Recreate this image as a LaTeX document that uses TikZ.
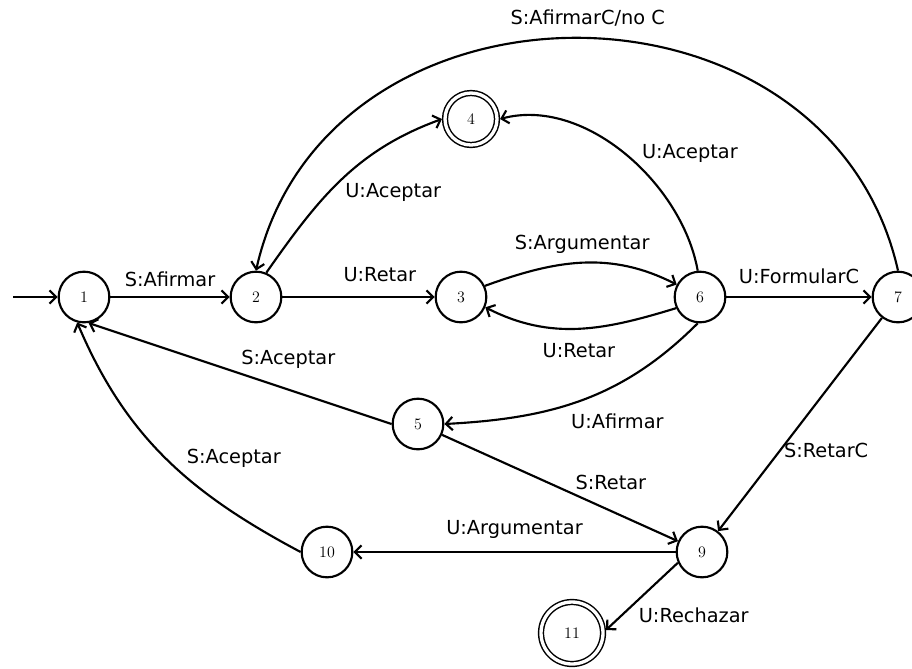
\documentclass[tikz,border=0pt]{standalone}
\usepackage{fontspec}
\usepackage{tikz}
\usetikzlibrary{arrows.meta}
\newfontfamily\lblfont{DejaVu Sans}

\tikzset{
	st/.style={circle, draw, line width=1.6pt, minimum size=38pt, inner sep=0pt, font=\fontsize{12}{12}\selectfont},
	fin/.style={st, double, double distance=2.5pt, line width=1.1pt, outer sep=2.3pt},
	trans/.style={->, line width=1.6pt},
	lbl/.style={font=\lblfont\fontsize{14.5}{16}\selectfont, inner sep=2pt}
}

\begin{document}
\begin{tikzpicture}[x=0.75pt, y=0.75pt, >={Straight Barb[length=5pt,width=10pt]}]
		
		\useasboundingbox (0,0) rectangle (912,-668);
		
		\foreach \n/\x/\y in {1/84/-297, 2/256/-297, 3/461/-297, 5/418/-424, 6/700/-297, 7/898/-297, 9/702/-552, 10/327/-552}
		{
			\node[st] (n\n) at (\x,\y) {\n};
		}
		\node[fin, minimum size=39pt] (n4) at (471,-119) {4};
		\node[fin, minimum size=46.5pt] (n11) at (572,-633) {11};
		\coordinate (s0) at (13,-297);
		
		\draw[trans] (s0) -- (n1);
		\draw[trans] (n1) -- (n2) node[lbl, midway, above=5pt] {S:Afirmar};
		\draw[trans] (n2) -- (n3) node[lbl, pos=0.64, above=8.5pt] {U:Retar};
		\draw[trans] (n2.67) to[out=55, in=200] node[lbl, pos=0.5, anchor=north west] {U:Aceptar} (n4.180);
		\draw[trans] (n7.north) .. controls +(-70,310) and +(70,310) .. (n2.north) node[lbl, pos=0.5, above=6pt, xshift=8pt] {S:AfirmarC/no C};
		
		\draw[trans] (n3.25) to[out=20, in=153] node[lbl, pos=0.5, above=4pt] {S:Argumentar} (n6.152);
		\draw[trans] (n6.205) to[out=197, in=-27] node[lbl, pos=0.5, below=8pt] {U:Retar} (n3.-23);
		\draw[trans] (n6.95) to[out=100, in=15, looseness=0.9] node[lbl, pos=0.5, anchor=west, xshift=10pt] {U:Aceptar} (n4.0);
		\draw[trans] (n6) -- (n7) node[lbl, midway, above=7pt] {U:FormularC};
		\draw[trans] (n6.265) to[out=225, in=3] node[lbl, pos=0.5, anchor=north, xshift=26pt, yshift=-8pt] {U:Afirmar} (n5.east);
		
		\draw[trans] (n5.west) -- (n1.-80) node[lbl, pos=0.508, anchor=south west] {S:Aceptar};
		\draw[trans] (n10.west) to[out=152, in=-67] node[lbl, pos=0.5, anchor=west, xshift=13pt] {S:Aceptar} (n1.-105);
		\draw[trans] (n5) -- (n9) node[lbl, pos=0.55, anchor=south west] {S:Retar};
		\draw[trans] (n7) -- (n9) node[lbl, pos=0.62, anchor=west] {S:RetarC};
		\draw[trans] (n9) -- (n10) node[lbl, midway, above=7pt] {U:Argumentar};
		\draw[trans] (n9.204) -- (n11.5) node[lbl, pos=0.78, anchor=west, xshift=10pt] {U:Rechazar};
		
\end{tikzpicture}
\end{document}
